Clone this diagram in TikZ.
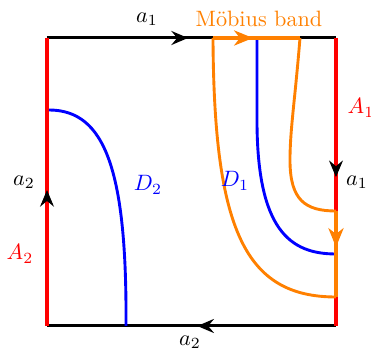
\documentclass[tikz,border=0pt]{standalone}
\usetikzlibrary{arrows.meta,decorations.markings}
\begin{document}
\begin{tikzpicture}[x=0.45pt,y=-0.45pt,
  blk/.style={line width=1.35pt,black},
  redge/.style={line width=1.8pt,red},
  bcurve/.style={line width=1.3pt,blue},
  ocurve/.style={line width=1.3pt,orange,line join=round},
  midarrow/.style={postaction={decorate,decoration={markings,
     mark=at position #1 with {\arrow[black]{Stealth[length=7.5pt,width=6.3pt,inset=2.6pt]}}}}},
  omidarrow/.style={postaction={decorate,decoration={markings,
     mark=at position #1 with {\arrow{Stealth[length=8.5pt,width=6.8pt,inset=2.6pt]}}}}},
  lbl/.style={inner sep=0pt}]
\useasboundingbox (0,0) rectangle (371,349);
\coordinate (TL) at (47,38);
\coordinate (TR) at (336,38);
\coordinate (BL) at (47,326);
\coordinate (BR) at (336,326);
% black edges
\draw[blk,midarrow=0.488] (TL) -- (TR);
\draw[blk,midarrow=0.48] (BR) -- (BL);
% red edges
\draw[redge] (BL) -- (TL);
\draw[redge] (TR) -- (BR);
\path[midarrow=0.472] (BL) -- (TL);
\path[midarrow=0.483] (TR) -- (BR);
% blue curves
\coordinate (d2s) at (49,110);
\coordinate (d2e) at (126,326);
\draw[bcurve] (d2s) .. controls (105,110) and (127,170) .. (d2e);
\coordinate (d1s) at (257,38);
\coordinate (d1e) at (336,254);
\draw[bcurve] (d1s) -- (257,120) .. controls (257,230) and (290,254) .. (d1e);
% orange band
\coordinate (o1) at (213,38);
\coordinate (o2) at (300,38);
\coordinate (o3) at (336,211);
\coordinate (o4) at (336,297);
\draw[ocurve] (o1) .. controls (214,230) and (245,297) .. (o4);
\draw[ocurve] (o2) .. controls (295,100) and (290,130) .. (290,160) .. controls (290,200) and (305,211) .. (o3);
\draw[ocurve,line width=1.5pt,omidarrow=0.46] (o1) -- (o2);
\draw[ocurve,line width=1.5pt,omidarrow=0.42] (o3) -- (o4);
% labels
\node[lbl] (la1t) at (147,19) {$a_1$};
\node[lbl,text=orange] (mob) at (259,19) {M\"obius band};
\node[lbl,text=red] (A1) at (361,108) {$A_1$};
\node[lbl] (la1r) at (357,182) {$a_1$};
\node[lbl] (la2l) at (24,182) {$a_2$};
\node[lbl,text=red] (A2) at (20,254) {$A_2$};
\node[lbl,text=blue] (D2) at (148,185) {$D_2$};
\node[lbl,text=blue] (D1) at (235,181) {$D_1$};
\node[lbl] (la2b) at (190,342) {$a_2$};
\end{tikzpicture}
\end{document}
